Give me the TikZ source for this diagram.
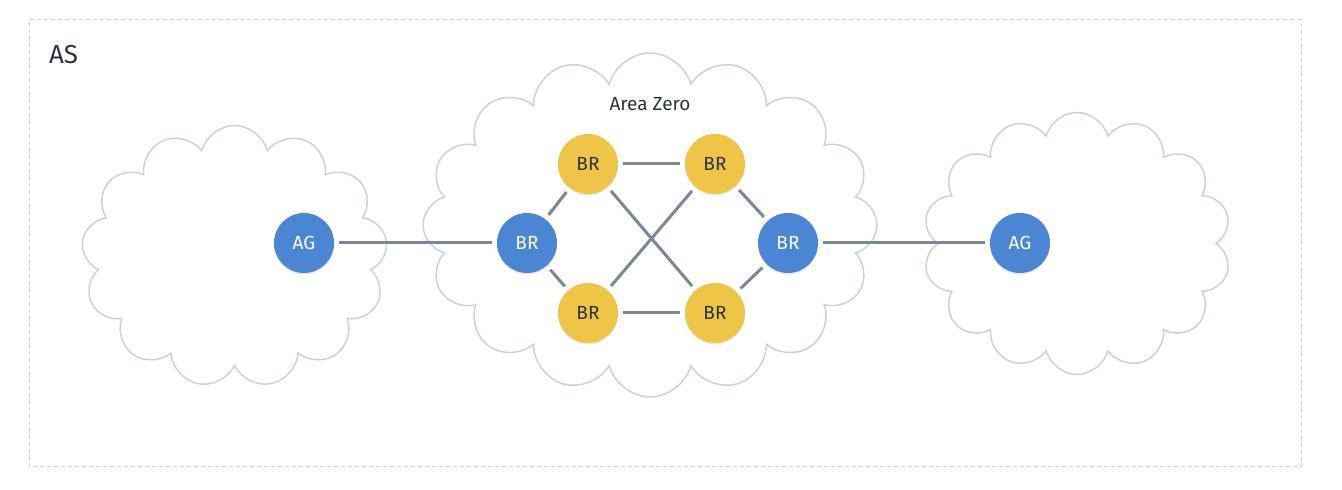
\documentclass[tikz,border=0pt]{standalone}
\usepackage{fontspec}
\setmainfont{Fira Sans}
\usepackage{tikz}
\usetikzlibrary{shapes.symbols,shadows}
\definecolor{ospfblue}{RGB}{74,134,212}
\definecolor{ospfyellow}{RGB}{239,197,72}
\definecolor{ospfline}{RGB}{124,135,150}
\definecolor{ospfcloud}{RGB}{201,210,220}
\definecolor{ospftext}{RGB}{43,52,64}
\tikzset{
  area/.style={cloud, draw=ospfcloud, line width=0.75pt, fill=white,
    cloud puff arc=150},
  router/.style={circle, minimum size=30pt, inner sep=0pt, font=\fontsize{9.5}{11}\selectfont,
    drop shadow={opacity=0.18, shadow xshift=0pt, shadow yshift=-0.7pt}},
  agnode/.style={router, fill=ospfblue, text=white},
  brblue/.style={router, fill=ospfblue, text=white},
  bryellow/.style={router, fill=ospfyellow, text=ospftext},
  link/.style={ospfline, line width=1.5pt, shorten <=2.5pt, shorten >=2.5pt}
}
\begin{document}
\begin{tikzpicture}[x=0.5pt,y=0.5pt]
  \useasboundingbox (0,0) rectangle (1342,490);
  \draw[ospfcloud, line width=0.5pt, dash pattern=on 2pt off 1.5pt] (29,23) rectangle (1301,470);
  \node[ospftext, anchor=west, font=\fontsize{13}{15}\selectfont] (as) at (42,435) {AS};
  % the three areas
  \node[area, cloud puffs=13, minimum width=153pt, minimum height=131pt] (left) at (234.5,233.5) {};
  \node[area, cloud puffs=16, minimum width=227pt, minimum height=172pt] (zero) at (650,265) {};
  \node[area, cloud puffs=14, minimum width=154pt, minimum height=131pt] (right) at (1077,246.5) {};
  \node[ospftext, font=\fontsize{9.5}{11}\selectfont] (zerolbl) at (650,386) {Area Zero};
  % routers
  \node[agnode] (ag1) at (304,247) {AG};
  \node[brblue] (br1) at (527,247) {BR};
  \node[bryellow] (brtl) at (588,326) {BR};
  \node[bryellow] (brtr) at (715,326) {BR};
  \node[bryellow] (brbl) at (588,177) {BR};
  \node[bryellow] (brbr) at (715,177) {BR};
  \node[brblue] (br2) at (788,247) {BR};
  \node[agnode] (ag2) at (1020,247) {AG};
  % links
  \draw[link] (ag1) -- (br1);
  \draw[link] (br1) -- (brtl);
  \draw[link] (br1) -- (brbl);
  \draw[link] (brtl) -- (brtr);
  \draw[link] (brbl) -- (brbr);
  \draw[link] (brtl) -- (brbr);
  \draw[link] (brbl) -- (brtr);
  \draw[link] (brtr) -- (br2);
  \draw[link] (brbr) -- (br2);
  \draw[link] (br2) -- (ag2);
\end{tikzpicture}
\end{document}
